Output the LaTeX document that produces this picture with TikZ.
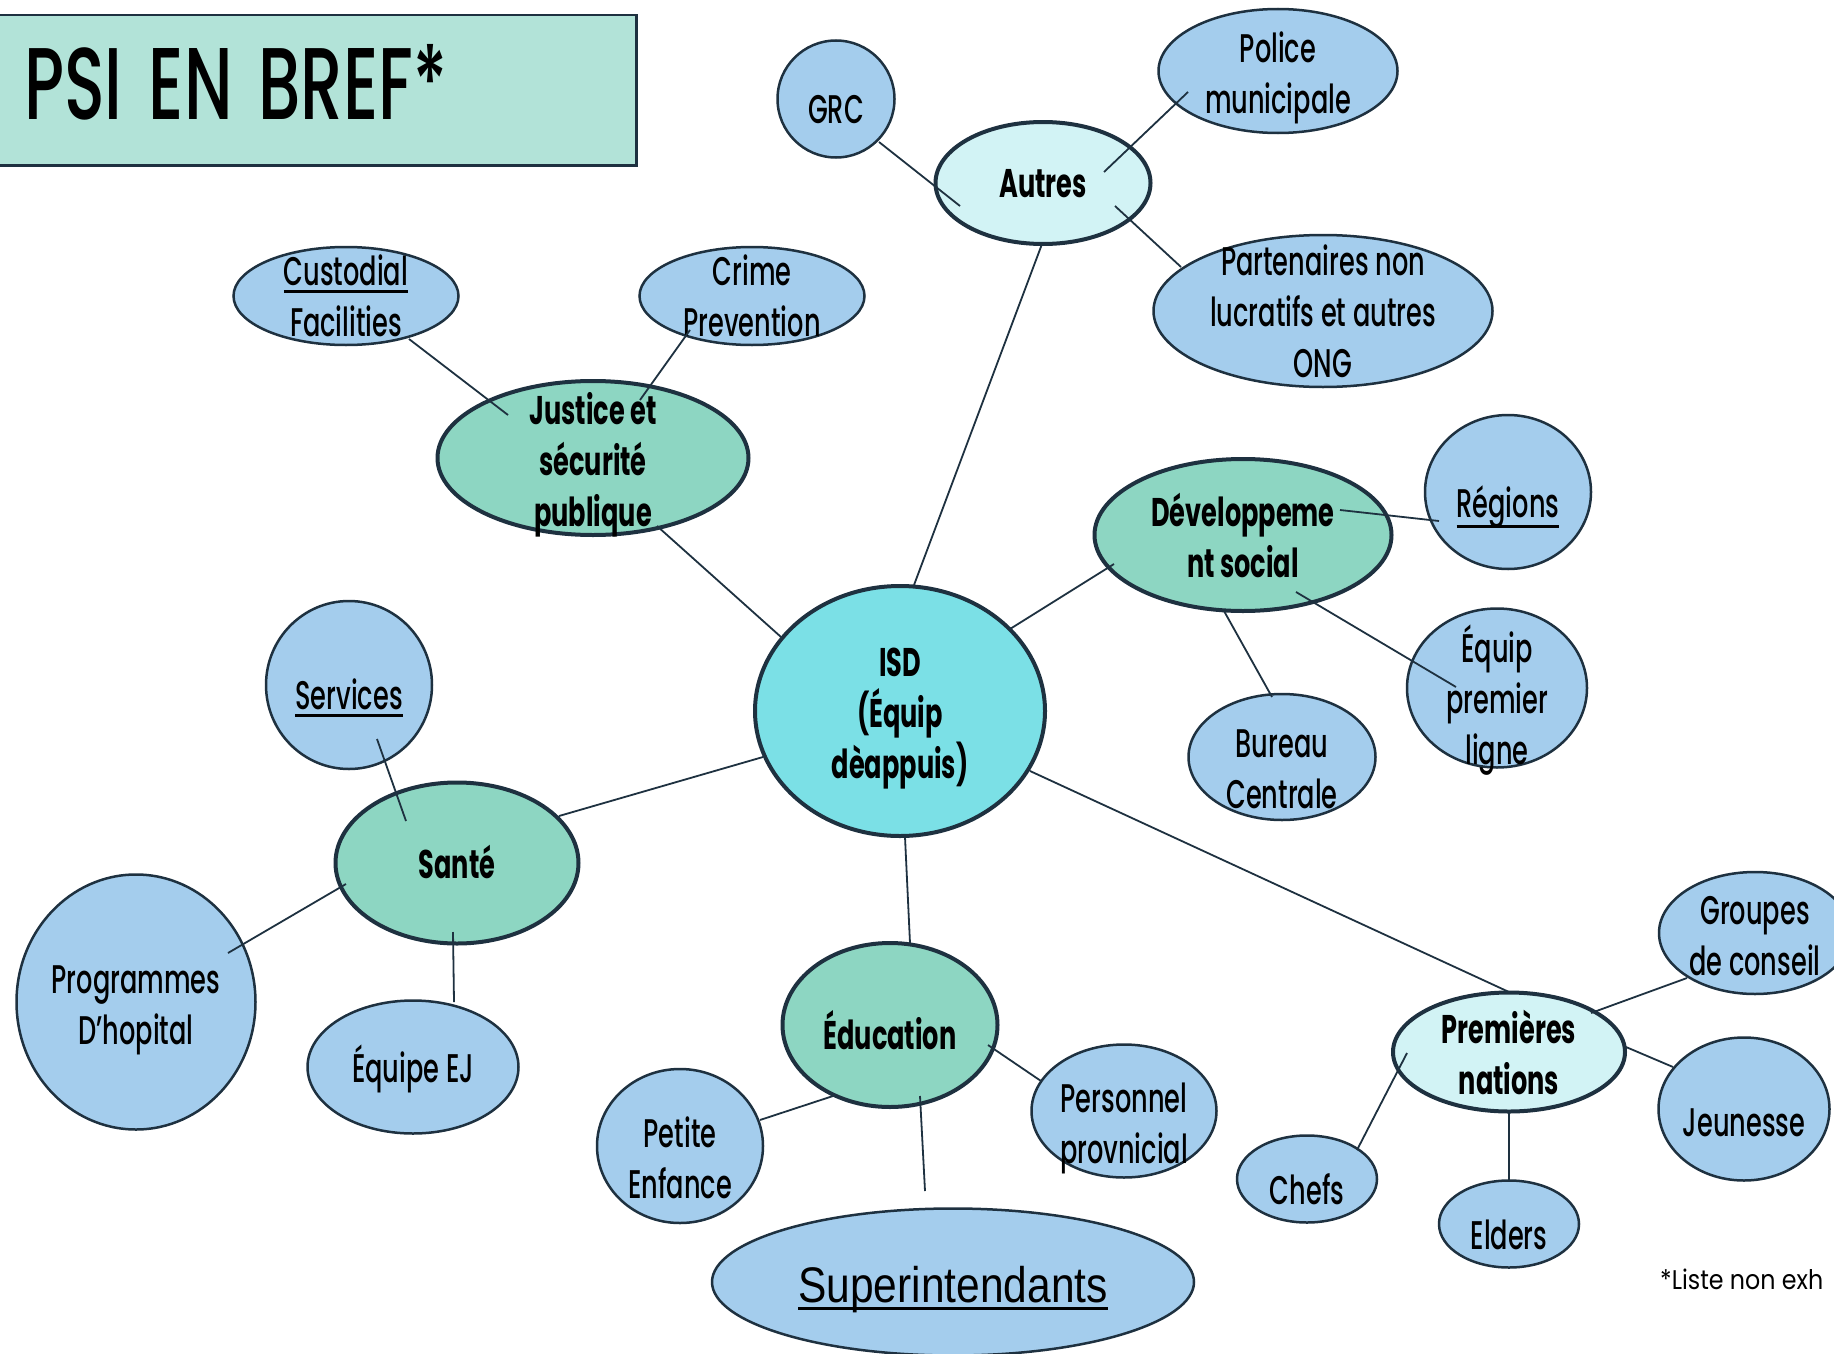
\documentclass[tikz,border=0pt]{standalone}
\usepackage{fontspec}
\usetikzlibrary{shapes.geometric,calc}
\newfontfamily\cf{Poppins}[UprightFont={Poppins Medium}, BoldFont={Poppins Bold}, FakeStretch=0.64]
\newfontfamily\tf{Poppins}[UprightFont={Poppins Medium}, FakeStretch=0.66]
\newfontfamily\ff{Poppins}[FakeStretch=0.88]
\newfontfamily\arialf{Liberation Sans}[FakeStretch=0.85]
\definecolor{strokec}{HTML}{1E3140}
\definecolor{lblue}{HTML}{A4CDED}
\definecolor{mgreen}{HTML}{8DD6C2}
\definecolor{cyanc}{HTML}{7BE0E6}
\definecolor{lcyan}{HTML}{D2F3F5}
\definecolor{titlec}{HTML}{B2E3D8}
\newcommand\myuline[2][7pt]{\leavevmode\setbox0\hbox{#2}\rlap{\raise-#1\hbox{\vrule width\wd0 height 3pt depth 0pt}}\box0}
\begin{document}
\begin{tikzpicture}[x=1pt,y=-1pt,
  shp/.style={ellipse, draw=strokec, line width=2.5pt, inner sep=0pt},
  leaf/.style={shp, fill=lblue},
  hubg/.style={shp, line width=4pt, fill=mgreen},
  hubc/.style={shp, line width=4pt, fill=lcyan},
  sz/.style 2 args={minimum width=#1, minimum height=#2},
  tx/.style={inner sep=0pt, align=center, text=black, font=\cf\fontsize{40}{51}\selectfont},
  txb/.style={tx, font=\cf\bfseries\fontsize{40}{51}\selectfont},
  one/.style={text height=#1, text depth=0pt},
  conn/.style={draw=strokec, line width=1.8pt},
]
\useasboundingbox (0,0) rectangle (1834,1354);
\clip (0,0) rectangle (1834,1354);

% title
\node[draw=strokec, line width=2.5pt, fill=titlec, anchor=north west, minimum width=638, minimum height=150, inner sep=0pt, text width=586, align=left, text height=58, text depth=0pt, font=\tf\fontsize{102}{110}\selectfont] (title) at (-3,14) {\spaceskip=26pt\relax PSI EN BREF*};

% nodes
\node[hubc, sz={215}{122}, label={[name=autresT, txb, one=28]center:Autres}] (autres) at (1043,183) {};
\node[leaf, sz={117}{117}, label={[name=grcT, tx, one=49]center:GRC}] (grc) at (836,99) {};
\node[leaf, sz={239}{124}, label={[name=policeT, tx, yshift=-7]center:Police\\municipale}] (police) at (1278,71) {};
\node[leaf, sz={339}{152}, label={[name=partT, tx]center:Partenaires non\\lucratifs et autres\\ONG}] (part) at (1323,311) {};
\node[leaf, sz={225}{98}, label={[name=custT, tx]center:\myuline{Custodial}\\Facilities}] (cust) at (346,296) {};
\node[leaf, sz={225}{98}, label={[name=crimeT, tx]center:Crime\\Prevention}] (crime) at (752,296) {};
\node[hubg, sz={311}{154}, label={[name=justT, txb, yshift=-7]center:Justice et\\sécurité\\publique}] (just) at (593,458) {};
\node[hubg, sz={297}{152}, label={[name=devT, txb]center:Développeme\\nt social}] (dev) at (1243,535) {};
\node[leaf, sz={166}{154}, label={[name=regT, tx, one=51]center:\myuline[10pt]{Régions}}] (reg) at (1508,492) {};
\node[leaf, sz={180}{159}, label={[name=eplT, tx, yshift=-12]center:Équip\\premier\\ligne}] (epl) at (1497,688) {};
\node[leaf, sz={187}{126}, label={[name=burT, tx, yshift=-12]center:Bureau\\Centrale}] (bur) at (1282,757) {};
\node[shp, line width=4pt, fill=cyanc, sz={290}{250}, label={[name=isdT, txb, yshift=-8]center:ISD\\(Équip\\dèappuis)}] (isd) at (900,711) {};
\node[leaf, sz={166}{168}, label={[name=servT, tx, one=49]center:\myuline{Services}}] (serv) at (349,685) {};
\node[hubg, sz={243}{161}, label={[name=santeT, txb, one=30]center:Santé}] (sante) at (457,863) {};
\node[leaf, sz={239}{255}, label={[name=progT, tx, yshift=-8]center:Programmes\\D’hopital}] (prog) at (136,1002) {};
\node[leaf, sz={211}{133}, label={[name=ejT, tx, one=30]center:Équipe EJ}] (ej) at (413,1067) {};
\node[hubg, sz={215}{164}, label={[name=eduT, txb, one=49]center:Éducation}] (edu) at (890,1025) {};
\node[leaf, sz={166}{154}, label={[name=petT, tx, yshift=-12]center:Petite\\Enfance}] (pet) at (680,1146) {};
\node[leaf, sz={185}{133}, label={[name=persT, tx, yshift=-17]center:Personnel\\provnicial}] (pers) at (1124,1111) {};
\node[leaf, sz={482}{147}, label={[name=supT, inner sep=0pt, text=black, font=\arialf\fontsize{50}{60}\selectfont, one=40]center:\myuline[8pt]{Superintendants}}] (sup) at (953,1282) {};
\node[hubc, sz={232}{119}, label={[name=premT, txb]center:Premières\\nations}] (prem) at (1509,1052) {};
\node[leaf, sz={192}{122}, label={[name=grpT, tx, yshift=-3]center:Groupes\\de conseil}] (grp) at (1755,933) {};
\node[leaf, sz={171}{143}, label={[name=jeuT, tx, one=54]center:Jeunesse}] (jeu) at (1744,1109) {};
\node[leaf, sz={140}{87}, label={[name=chefT, tx, one=51]center:Chefs}] (chef) at (1307,1179) {};
\node[leaf, sz={140}{87}, label={[name=eldT, tx, one=51]center:Elders}] (eld) at (1509,1224) {};

\node[anchor=base west, inner sep=0pt, font=\ff\fontsize{27}{34}\selectfont] (note) at (1660,1289) {*Liste non exh};

% connectors
\draw[conn] ($(grc.center)+(43,43)$) -- ($(autres.center)+(-83,23)$);
\draw[conn] ($(autres.center)+(61,-11)$) -- ($(police.center)+(-90,21)$);
\draw[conn] ($(autres.center)+(72,23)$) -- ($(part.center)+(-142,-44)$);
\draw[conn] ($(autres.center)+(-1,61)$) -- ($(isd.center)+(14,-126)$);
\draw[conn] ($(cust.center)+(63,43)$) -- ($(just.center)+(-85,-43)$);
\draw[conn] ($(crime.center)+(-62,34)$) -- ($(just.center)+(47,-58)$);
\draw[conn] ($(just.center)+(64,68)$) -- ($(isd.center)+(-119,-74)$);
\draw[conn] ($(isd.center)+(110,-82)$) -- ($(dev.center)+(-129,29)$);
\draw[conn] ($(dev.center)+(97,-25)$) -- ($(reg.center)+(-69,29)$);
\draw[conn] ($(dev.center)+(53,57)$) -- ($(epl.center)+(-41,-1)$);
\draw[conn] ($(dev.center)+(-19,76)$) -- ($(bur.center)+(-10,-60)$);
\draw[conn] ($(isd.center)+(130,60)$) -- ($(prem.center)+(0,-60)$);
\draw[conn] ($(isd.center)+(-137,46)$) -- ($(sante.center)+(102,-47)$);
\draw[conn] ($(serv.center)+(28,54)$) -- ($(sante.center)+(-51,-42)$);
\draw[conn] ($(sante.center)+(-111,21)$) -- ($(prog.center)+(92,-49)$);
\draw[conn] ($(sante.center)+(-4,69)$) -- ($(ej.center)+(41,-65)$);
\draw[conn] ($(isd.center)+(5,126)$) -- ($(edu.center)+(20,-82)$);
\draw[conn] ($(edu.center)+(-57,71)$) -- ($(pet.center)+(80,-26)$);
\draw[conn] ($(edu.center)+(98,20)$) -- ($(pers.center)+(-83,-30)$);
\draw[conn] ($(edu.center)+(30,71)$) -- ($(sup.center)+(-28,-91)$);
\draw[conn] ($(prem.center)+(82,-39)$) -- ($(grp.center)+(-68,45)$);
\draw[conn] ($(prem.center)+(117,-5)$) -- ($(jeu.center)+(-71,-42)$);
\draw[conn] ($(prem.center)+(-102,1)$) -- ($(chef.center)+(50,-29)$);
\draw[conn] ($(prem.center)+(0,61)$) -- ($(eld.center)+(0,-42)$);
\end{tikzpicture}
\end{document}
